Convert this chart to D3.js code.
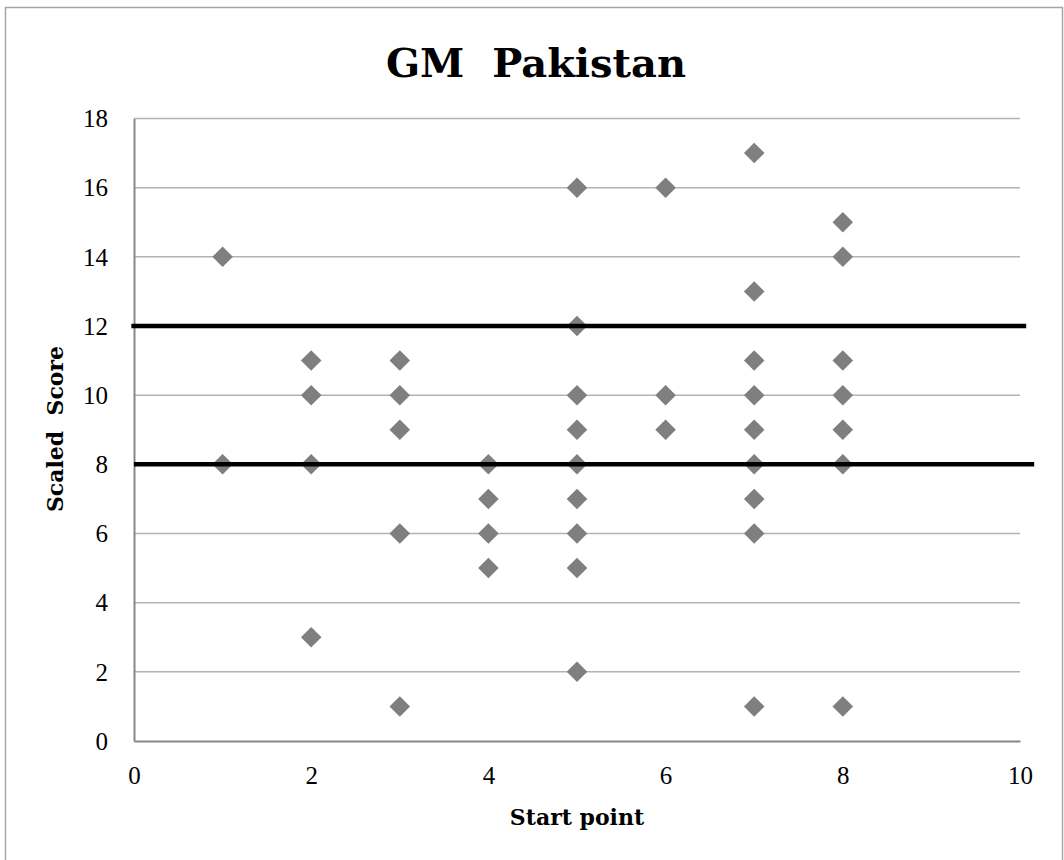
<!DOCTYPE html>
<html><head><meta charset="utf-8">
<script src="https://cdn.jsdelivr.net/npm/d3@7"></script>
<style>body{margin:0;background:#fff}</style>
</head><body>
<svg id="c" width="1064" height="860"></svg>
<script>
const title = "GM  Pakistan";
const xTitle = "Start point";
const yTitle = "Scaled  Score";
const xTicks = [0, 2, 4, 6, 8, 10];
const yTicks = [0, 2, 4, 6, 8, 10, 12, 14, 16, 18];
const startPoint = [1,1, 2,2,2,2, 3,3,3,3,3, 4,4,4,4, 5,5,5,5,5,5,5,5,5, 6,6,6, 7,7,7,7,7,7,7,7,7, 8,8,8,8,8,8,8];
const scaledScore = [14,8, 11,10,8,3, 11,10,9,6,1, 8,7,6,5, 16,12,10,9,8,7,6,5,2, 16,10,9, 17,13,11,10,9,8,7,6,1, 15,14,11,10,9,8,1];
const thresholds = [12, 8];
const thresholdEnds = [[-0.03, 10.07], [0, 10.16]];

const svg = d3.select("#c");
const L = 134, R = 1020, T = 118.5, B = 741;
const x = d3.scaleLinear().domain([0, 10]).range([L, R]);
const y = d3.scaleLinear().domain([0, 18]).range([B, T]);
const serif = "'DejaVu Serif',serif";
const tickFont = "'Liberation Serif','Times New Roman',serif";

svg.append("rect").attr("x", 5.5).attr("y", 7.5).attr("width", 1057).attr("height", 860)
  .attr("fill", "#fff").attr("stroke", "#a6a6a6").attr("stroke-width", 1.5);

// gridlines
svg.append("g").selectAll("line").data(yTicks.filter(d => d > 0)).join("line")
  .attr("x1", L).attr("x2", R).attr("y1", d => y(d)).attr("y2", d => y(d))
  .attr("stroke", "#b3b3b3").attr("stroke-width", 1.5);

// axes
const yAxis = d3.axisLeft(y).tickValues(yTicks).tickSize(0).tickPadding(26);
const gy = svg.append("g").attr("transform", `translate(${L},0)`).call(yAxis);
const xAxis = d3.axisBottom(x).tickValues(xTicks).tickSize(0).tickPadding(25);
const gx = svg.append("g").attr("transform", `translate(0,${B})`).call(xAxis);
[gx, gy].forEach(g => {
  g.select(".domain").attr("stroke", "#878787").attr("stroke-width", 2);
  g.selectAll("text").attr("font-family", tickFont).attr("font-size", 25).attr("fill", "#000");
});
gy.selectAll("text").attr("dy", "0.33em");

// points
const diamond = d3.symbol().type(d3.symbolDiamond2).size(270);
svg.append("g").selectAll("path").data(startPoint.map((s, i) => [s, scaledScore[i]])).join("path")
  .attr("d", diamond)
  .attr("transform", d => `translate(${x(d[0])},${y(d[1])})`)
  .attr("fill", "#7f7f7f");

// threshold lines
svg.append("g").selectAll("line").data(thresholds).join("line")
  .attr("x1", (d, i) => x(thresholdEnds[i][0])).attr("x2", (d, i) => x(thresholdEnds[i][1]))
  .attr("y1", d => y(d)).attr("y2", d => y(d))
  .attr("stroke", "#000").attr("stroke-width", 4.5);

svg.append("text").attr("x", 536).attr("y", 77).attr("text-anchor", "middle")
  .attr("font-family", serif).attr("font-weight", "bold").attr("font-size", 40)
  .style("white-space", "pre").text(title);
svg.append("text").attr("x", 577).attr("y", 825).attr("text-anchor", "middle")
  .attr("font-family", serif).attr("font-weight", "bold").attr("font-size", 22).text(xTitle);
svg.append("text").attr("transform", "translate(63,429) rotate(-90)").attr("text-anchor", "middle")
  .attr("font-family", serif).attr("font-weight", "bold").attr("font-size", 22)
  .style("white-space", "pre").text(yTitle);
</script>
</body></html>
